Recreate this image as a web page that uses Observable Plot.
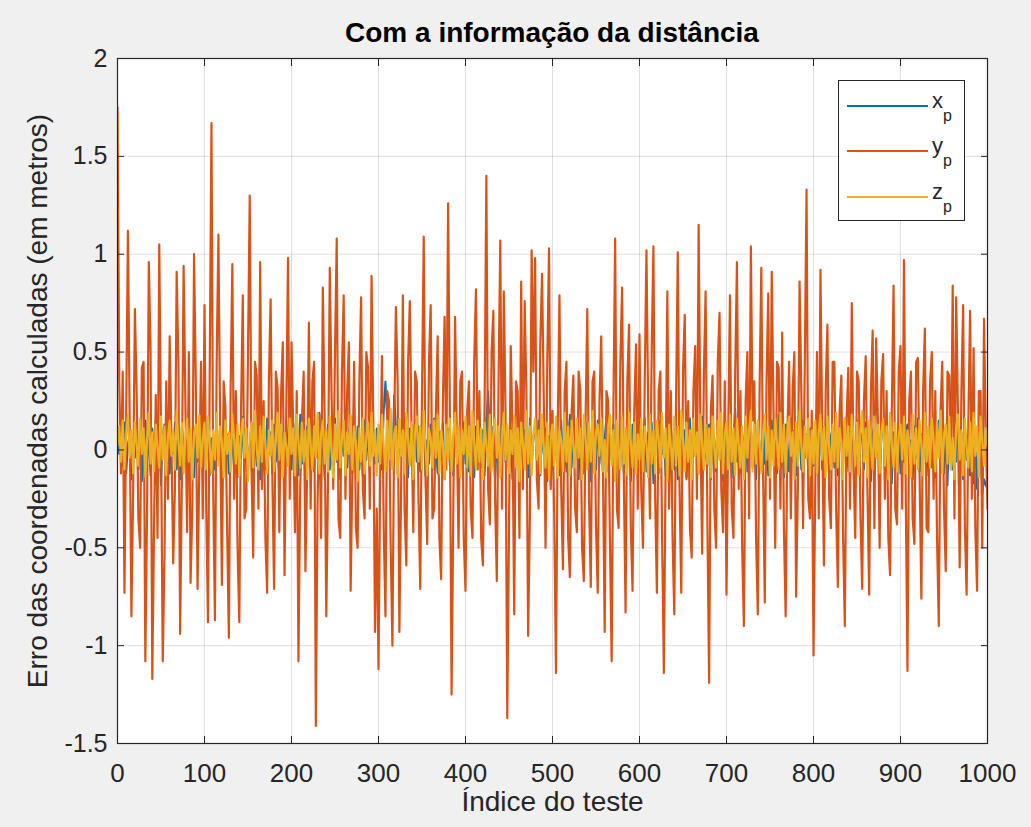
<!DOCTYPE html>
<html>
<head>
<meta charset="utf-8">
<script src="https://cdn.jsdelivr.net/npm/d3@7"></script>
<script src="https://cdn.jsdelivr.net/npm/@observablehq/plot@0.6"></script>
<style>
  html, body { margin: 0; padding: 0; background: #f0f0f0; }
  #wrap { position: relative; width: 1031px; height: 827px; overflow: hidden;
          font-family: "Liberation Sans", Arial, Helvetica, sans-serif; }
  #title { height: 40px; box-sizing: border-box; padding-top: 17px; line-height: 32px; overflow: visible;
           font-size: 28px; font-weight: bold; color: #000; margin-left: 117px; width: 870px; text-align: center; }
  #chart { position: relative; }
  #legend { position: absolute; left: 838px; top: 80px; width: 127px; height: 141px; box-sizing: border-box;
            border: 1px solid #262626; background: #fff; }
  .lg-line { position: absolute; left: 8px; width: 81px; height: 0; }
  .lg-text { position: absolute; left: 93px; font-size: 22px; line-height: 22px; color: #262626; white-space: nowrap; }
  .lg-text span { font-size: 16px; position: relative; top: 13px; }
</style>
</head>
<body>
<div id="wrap">
  <div id="title"></div>
  <div id="chart"></div>
  <div id="legend"></div>
</div>
<script>
// ---- data ----
const titleText = "Com a informação da distância";
const xLabel = "Índice do teste";
const yLabel = "Erro das coordenadas calculadas (em metros)";
const xTicks = [0, 100, 200, 300, 400, 500, 600, 700, 800, 900, 1000];
const yTicks = [-1.5, -1, -0.5, 0, 0.5, 1, 1.5, 2];
const xDomain = [0, 1000];
const yDomain = [-1.5, 2];
const seriesBase = ["x", "y", "z"];
const seriesSub = ["p", "p", "p"];
const seriesColors = ["#0072BD", "#D95319", "#EDB120"];

// x_p (blue) — one value every 2 test indices
const xp = [
  0.05,-0.02,0.1,-0.08,0.14,-0.12,0.03,0.08,-0.15,0.06, -0.04,0.12,-0.1,0.02,-0.16,0.09,0.15,-0.05,0.07,-0.13, 0.11,-0.03,0.16,-0.09,0.04,-0.18,0.08,0.13,-0.06,0.1, -0.12,0.06,-0.02,0.14,-0.1,0.09,-0.15,0.12,0.01,-0.08, 0.15,-0.11,0.07,0.04,-0.14,0.1,-0.06,0.13,-0.09,0.05,
  0.12,-0.07,0.16,-0.13,0.06,0.02,-0.1,0.14,-0.05,0.09, -0.16,0.11,-0.03,0.08,-0.12,0.15,0.04,-0.09,0.13,-0.14, 0.07,-0.04,0.17,-0.11,0.1,-0.06,0.02,0.14,-0.13,0.08, -0.08,0.12,-0.15,0.05,0.11,-0.1,0.16,-0.02,0.09,-0.12, 0.13,-0.06,0.04,-0.14,0.1,0.07,-0.11,0.15,-0.04,0.08,
  -0.1,0.14,-0.05,0.09,-0.13,0.18,-0.07,0.06,-0.16,0.12, 0.02,-0.09,0.15,-0.11,0.08,-0.04,0.19,-0.08,0.11,-0.14, 0.05,0.13,-0.1,0.03,-0.12,0.16,-0.06,0.1,-0.15,0.09, -0.03,0.14,-0.09,0.07,0.17,-0.12,0.04,-0.08,0.12,-0.1, 0.06,-0.14,0.15,-0.05,0.1,-0.11,0.13,0.02,-0.07,0.11,
  -0.06,0.12,-0.1,0.2,0.35,0.15,-0.04,0.1,-0.08,0.28, 0.12,-0.12,0.09,-0.03,0.14,-0.1,0.06,-0.14,0.11,0.04, -0.09,0.15,-0.06,0.12,-0.11,0.08,0.17,-0.13,0.05,-0.07, 0.13,-0.1,0.16,0.02,-0.12,0.09,-0.05,0.14,-0.15,0.07, 0.11,-0.08,0.03,-0.13,0.15,-0.04,0.1,-0.11,0.06,0.14,
  -0.07,0.16,-0.11,0.08,0.03,-0.14,0.12,-0.05,0.19,-0.09, 0.1,-0.13,0.15,0.3,0.06,-0.08,0.12,-0.16,0.05,0.09, -0.1,0.22,0.14,-0.06,0.04,-0.12,0.11,-0.15,0.17,-0.03, 0.08,-0.11,0.13,-0.07,0.1,0.02,-0.14,0.16,-0.09,0.06, 0.12,-0.05,0.15,-0.13,0.09,-0.02,0.11,-0.16,0.07,-0.18,
  0.08,-0.06,0.12,0.02,-0.13,0.15,-0.08,0.1,-0.11,0.05, 0.18,-0.09,0.13,-0.04,0.07,-0.15,0.11,0.03,-0.12,0.14, -0.06,0.09,-0.16,0.12,0.04,-0.1,0.15,-0.07,0.1,-0.13, 0.06,0.17,-0.11,0.08,-0.05,0.13,-0.14,0.1,0.01,-0.09, 0.15,-0.12,0.07,-0.03,0.11,-0.16,0.13,0.05,-0.1,0.09,
  0.12,-0.08,0.04,0.16,-0.11,0.09,-0.05,0.14,-0.17,0.07, 0.1,-0.12,0.15,-0.02,0.06,-0.13,0.19,-0.07,0.11,0.03, -0.1,0.13,-0.15,0.08,0.12,-0.06,0.1,-0.14,0.05,0.16, -0.09,0.11,-0.03,0.14,-0.12,0.07,0.17,-0.1,0.04,-0.08, 0.13,-0.15,0.09,0.06,-0.11,0.14,-0.04,0.1,-0.16,0.08,
  0.07,-0.1,0.13,-0.14,0.05,0.21,-0.06,0.11,-0.12,0.09, -0.03,0.15,-0.11,0.08,0.12,-0.09,0.04,-0.15,0.14,0.02, -0.1,0.17,-0.07,0.1,-0.13,0.06,0.15,-0.05,0.11,-0.12, 0.18,-0.08,0.09,-0.14,0.13,0.03,-0.11,0.16,-0.06,0.1, -0.13,0.07,0.12,-0.1,0.15,-0.04,0.08,-0.12,0.11,0.05,
  -0.08,0.14,-0.12,0.06,0.17,-0.1,0.09,-0.05,0.13,-0.15, 0.07,0.11,-0.09,0.15,-0.13,0.04,0.1,-0.07,0.16,-0.11, 0.06,-0.14,0.12,0.02,-0.08,0.15,-0.12,0.09,0.05,-0.1, 0.14,-0.06,0.11,-0.16,0.08,0.13,-0.04,0.1,-0.12,0.07, 0.15,-0.09,0.04,-0.13,0.12,-0.17,0.09,0.06,-0.08,0.1,
  -0.12,0.15,-0.06,0.09,0.13,-0.1,0.05,-0.15,0.12,-0.04, 0.16,-0.11,0.08,-0.07,0.14,-0.13,0.1,0.03,-0.09,0.12, -0.14,0.06,0.15,-0.08,0.1,-0.12,0.07,-0.18,0.11,0.04, -0.1,0.13,-0.06,0.16,-0.11,0.09,-0.15,0.12,-0.05,0.08, -0.13,0.1,-0.17,0.06,-0.2,-0.08,0.05,-0.22,-0.15,-0.18,
  -0.2
];

// y_p (orange)
const yp = [
  1.75,0.35,-0.12,0.4,-0.73,0.2,1.12,0.15,-0.85,-0.2, 0.72,0.3,-0.35,-0.5,0.42,0.45,-1.08,-0.3,0.96,0.5, -1.17,-0.4,0.28,-0.45,1.05,0.1,-1.08,-0.55,0.35,-0.25, 0.58,0.05,-0.58,-0.2,0.91,0.45,-0.94,-0.15,0.94,0.25, -0.42,0.5,-0.68,-0.3,1.0,0.35,-0.71,-0.1,0.45,-0.35,
  0.74,-0.3,-0.88,0.4,1.67,-0.2,-0.87,0.45,1.1,0.1, -0.69,0.35,0.22,-0.4,-0.96,0.3,0.95,-0.25,0.3,-0.5, -0.88,0.2,0.79,-0.35,-0.3,0.5,1.3,-0.1,-0.55,0.45, 0.38,-0.3,0.96,-0.2,0.25,-0.45,-0.73,0.35,0.77,-0.15, -0.71,0.4,0.32,-0.42,0.28,0.55,-0.64,0.2,0.98,-0.25,
  0.55,0.1,-0.42,0.3,-1.08,-0.2,0.15,0.4,-0.62,-0.1, 0.65,-0.3,0.35,0.45,-1.41,-0.25,0.18,-0.45,0.83,0.2, -0.85,-0.15,0.93,0.3,-0.2,0.5,1.08,-0.35,-0.45,0.4, 0.79,-0.25,0.3,0.55,-0.72,-0.1,0.45,-0.4,-0.5,0.35, 0.78,-0.2,-0.35,0.5,0.42,-0.3,0.89,0.15,-0.93,-0.3,
  -1.12,-0.1,0.48,-0.4,-0.85,0.3,0.25,-0.5,-1.0,0.1, 0.73,0.35,-0.93,-0.2,0.79,-0.3,-0.59,0.45,0.76,0.1, -0.42,0.4,0.35,-0.25,-0.71,0.3,1.09,-0.15,-0.48,0.45, 0.74,-0.35,-0.3,0.2,0.58,-0.45,-0.66,0.25,0.68,-0.1, 1.26,0.2,-1.25,-0.3,0.68,0.1,-0.5,0.35,0.4,-0.45,
  -0.72,0.2,0.35,-0.3,-0.45,0.45,0.82,-0.1,0.3,-0.45, -0.59,0.25,1.40,-0.2,-0.38,0.5,0.71,-0.25,-0.67,0.35, 1.07,-0.3,0.81,0.2,-1.37,-0.4,0.53,0.1,-0.84,0.35, 0.3,-0.45,0.86,-0.2,0.76,0.3,-0.95,-0.35,1.02,0.4, 0.98,-0.15,-0.3,0.55,0.9,0.25,-0.5,0.45,1.03,-0.2,
  0.2,-0.35,-1.14,0.1,0.79,-0.2,-0.61,0.3,0.45,-0.45, -0.65,0.2,0.38,-0.3,-0.42,0.4,0.3,-0.5,-0.67,0.15, 0.72,-0.25,-0.70,0.35,0.4,-0.4,-0.73,0.25,0.58,-0.1, -0.93,0.3,0.25,-0.45,-1.08,0.2,1.08,-0.3,-0.4,0.45, 0.83,-0.15,-0.83,0.35,0.64,-0.4,-0.72,0.2,0.54,-0.3,
  0.59,-0.2,-0.5,0.35,1.02,0.2,-0.35,0.5,1.04,-0.25, -0.73,0.3,0.4,-0.45,-1.14,-0.1,0.81,-0.3,0.3,-0.45, -0.84,0.25,1.01,-0.2,-0.73,0.4,0.69,-0.15,0.25,-0.4, -0.55,0.3,0.53,-0.25,1.15,0.1,-0.53,0.4,0.81,-0.35, -1.19,0.2,0.38,-0.3,-0.5,0.45,0.7,-0.2,-0.42,0.35,
  -0.74,0.1,0.79,-0.3,-0.45,0.4,0.96,-0.2,0.3,-0.5, -0.9,0.25,0.5,-0.35,1.04,0.15,0.35,-0.45,-0.84,0.3, 0.93,-0.1,-0.78,0.35,0.80,-0.25,0.91,0.2,-0.5,0.45, 0.42,-0.3,0.60,-0.4,-0.85,0.1,0.45,-0.35,0.3,0.5, -0.75,-0.2,0.86,0.3,-0.4,0.45,1.33,-0.25,-0.35,0.2,
  -1.05,-0.2,0.5,-0.35,0.92,0.1,-0.59,0.3,0.64,-0.25, -0.4,0.45,0.45,-0.3,-0.70,0.2,0.38,-0.45,-0.90,0.15, 0.42,-0.3,0.75,-0.1,-0.45,0.4,0.35,-0.35,-0.71,0.25, 0.48,-0.2,-0.74,0.3,0.61,-0.4,0.57,0.15,-0.5,0.35, 0.49,-0.25,0.3,-0.45,-0.64,0.2,0.84,-0.3,-0.38,0.4,
  0.53,-0.3,0.97,-0.2,-1.13,0.25,0.4,-0.35,-0.48,0.45, 0.47,-0.15,-0.76,0.3,0.62,-0.4,-0.42,0.35,0.5,-0.25, 0.3,-0.45,-0.90,0.2,0.45,-0.3,-0.62,0.4,0.38,-0.1, 0.84,-0.35,0.78,0.2,-0.60,0.3,0.74,-0.4,-0.74,0.15, 0.71,-0.25,0.52,-0.4,-0.72,0.3,0.3,-0.5,0.67,0.1,
  -0.3
];

// z_p (yellow)
const zp = [
  0.02,0.12,-0.06,0.15,-0.1,0.08,0.18,-0.04,0.1,-0.12, 0.14,0.03,-0.08,0.16,-0.02,0.11,-0.14,0.06,0.19,-0.07, 0.09,-0.11,0.13,0.01,-0.09,0.17,-0.05,0.12,-0.13,0.07, 0.15,-0.03,0.1,-0.1,0.2,0.04,-0.08,0.14,-0.12,0.06, 0.16,-0.06,0.11,-0.15,0.08,0.13,-0.04,0.18,-0.09,0.05,
  0.14,-0.1,0.17,0.02,-0.12,0.1,-0.05,0.19,-0.08,0.12, 0.04,-0.14,0.15,-0.02,0.09,-0.11,0.18,0.06,-0.07,0.13, -0.13,0.08,0.16,-0.04,0.11,-0.16,0.05,0.14,-0.09,0.2, 0.01,-0.1,0.12,-0.06,0.17,0.03,-0.12,0.1,-0.03,0.15, -0.11,0.07,0.19,-0.05,0.13,-0.14,0.09,0.02,-0.08,0.16,
  -0.02,0.11,-0.13,0.18,0.05,-0.09,0.14,-0.06,0.1,-0.15, 0.16,0.03,-0.1,0.12,-0.04,0.19,-0.12,0.08,0.15,-0.07, 0.1,-0.11,0.17,0.0,-0.14,0.13,-0.05,0.2,-0.09,0.06, 0.15,-0.13,0.09,-0.02,0.18,-0.1,0.12,0.04,-0.16,0.11, -0.06,0.16,-0.12,0.07,0.14,-0.08,0.19,-0.03,0.1,-0.13,
  0.13,-0.07,0.18,0.02,-0.11,0.15,-0.05,0.21,-0.1,0.08, 0.12,-0.14,0.16,-0.03,0.1,-0.12,0.19,0.05,-0.08,0.14, -0.15,0.09,0.17,-0.06,0.12,-0.1,0.2,0.01,-0.13,0.11, 0.06,-0.09,0.15,-0.04,0.18,-0.12,0.1,0.03,-0.15,0.13, -0.05,0.16,-0.11,0.08,0.19,-0.07,0.12,-0.14,0.1,-0.02,
  0.17,-0.09,0.12,-0.13,0.2,0.04,-0.1,0.15,-0.06,0.11, -0.15,0.14,0.02,-0.08,0.18,-0.11,0.09,0.16,-0.04,0.12, -0.14,0.07,0.19,-0.05,0.13,-0.12,0.1,-0.02,0.17,-0.09, 0.11,-0.16,0.14,0.03,-0.1,0.2,-0.07,0.12,-0.13,0.08, 0.16,-0.05,0.1,-0.12,0.18,0.01,-0.09,0.14,-0.15,0.06,
  0.13,-0.08,0.17,-0.14,0.1,0.05,-0.11,0.19,-0.06,0.12, -0.13,0.15,0.02,-0.09,0.16,-0.04,0.11,-0.15,0.18,0.07, -0.1,0.14,-0.06,0.2,-0.12,0.09,0.13,-0.03,0.16,-0.11, 0.05,-0.14,0.12,0.18,-0.08,0.1,-0.16,0.15,0.01,-0.1, 0.17,-0.07,0.11,-0.13,0.19,0.04,-0.09,0.14,-0.12,0.08,
  -0.05,0.16,-0.11,0.12,0.03,-0.14,0.18,-0.07,0.1,-0.12, 0.15,0.06,-0.09,0.19,-0.04,0.11,-0.16,0.13,0.02,-0.1, 0.17,-0.08,0.12,-0.13,0.2,0.05,-0.11,0.14,-0.06,0.1, -0.15,0.16,-0.03,0.09,-0.12,0.18,0.04,-0.1,0.13,-0.07, 0.11,-0.14,0.17,0.01,-0.09,0.15,-0.05,0.19,-0.12,0.08,
  0.14,-0.1,0.18,-0.06,0.11,-0.13,0.16,0.03,-0.09,0.12, -0.15,0.17,-0.04,0.1,0.2,-0.11,0.13,-0.07,0.15,0.02, -0.12,0.09,0.18,-0.05,0.12,-0.14,0.1,-0.08,0.16,0.04, -0.1,0.19,-0.06,0.13,-0.12,0.11,0.17,-0.03,0.09,-0.15, 0.14,-0.08,0.2,0.02,-0.11,0.12,-0.04,0.16,-0.13,0.1,
  -0.07,0.15,-0.12,0.09,0.18,-0.05,0.12,-0.14,0.17,0.01, -0.1,0.13,-0.06,0.19,-0.09,0.11,0.04,-0.15,0.16,-0.03, 0.12,-0.11,0.18,0.06,-0.08,0.14,-0.13,0.1,0.2,-0.06, 0.11,-0.14,0.15,0.02,-0.1,0.17,-0.04,0.13,-0.12,0.09, 0.16,-0.08,0.12,-0.15,0.19,0.03,-0.09,0.14,-0.11,0.07,
  0.13,-0.05,0.17,-0.12,0.1,0.04,-0.14,0.18,-0.07,0.11, -0.1,0.15,0.02,-0.13,0.19,-0.06,0.12,-0.09,0.16,0.05, -0.11,0.14,-0.04,0.2,-0.12,0.08,0.13,-0.07,0.17,-0.1, 0.06,-0.15,0.12,0.18,-0.05,0.1,-0.13,0.16,0.01,-0.09, 0.14,-0.11,0.19,-0.03,0.12,-0.14,0.17,0.05,-0.08,0.11,
  0.02
];

// ---- build ----
document.getElementById("title").textContent = titleText;
const toRows = (arr) => arr.map((v, k) => ({idx: xDomain[0] + k * (xDomain[1] - xDomain[0]) / (arr.length - 1), v}));
const series = [xp, yp, zp];
const lineWidths = [2, 2.2, 2.2];
const fontFamily = "'Liberation Sans', Arial, Helvetica, sans-serif";
const fmt = (d) => String(d);

const chart = Plot.plot({
  width: 1031,
  height: 787,
  marginTop: 18,
  marginBottom: 84,
  marginLeft: 117,
  marginRight: 44,
  style: {background: "transparent", fontFamily, color: "#262626", overflow: "visible"},
  x: {domain: xDomain},
  y: {domain: yDomain},
  marks: [
    Plot.frame({fill: "white", stroke: null}),
    Plot.gridX(xTicks, {stroke: "#262626", strokeOpacity: 0.15}),
    Plot.gridY(yTicks, {stroke: "#262626", strokeOpacity: 0.15}),
    ...series.map((s, k) => Plot.lineY(toRows(s), {x: "idx", y: "v", stroke: seriesColors[k], strokeWidth: lineWidths[k], clip: true})),
    Plot.frame({stroke: "#262626", strokeWidth: 1.2}),
    Plot.axisX(xTicks, {anchor: "bottom", tickSize: -7, tickPadding: 27, fontSize: 26, tickFormat: fmt, label: null}),
    Plot.axisX(xTicks, {anchor: "top", tickSize: -7, tickFormat: () => "", label: null}),
    Plot.axisY(yTicks, {anchor: "left", tickSize: -7, tickPadding: 17, fontSize: 25, tickFormat: fmt, label: null}),
    Plot.axisY(yTicks, {anchor: "right", tickSize: -7, tickFormat: () => "", label: null}),
    Plot.text([xLabel], {frameAnchor: "bottom", dy: 59, lineAnchor: "middle", fontSize: 28, fill: "#262626"}),
    Plot.text([yLabel], {frameAnchor: "left", dx: -79, rotate: -90, textAnchor: "middle", lineAnchor: "middle", fontSize: 28, fill: "#262626"})
  ]
});
document.getElementById("chart").appendChild(chart);

// legend (HTML overlay inside the axes)
const legend = document.getElementById("legend");
const rowCenters = [25, 70, 116];
seriesBase.forEach((b, k) => {
  const line = document.createElement("div");
  line.className = "lg-line";
  line.style.top = (rowCenters[k] - 1) + "px";
  line.style.borderTop = "2px solid " + seriesColors[k];
  legend.appendChild(line);
  const t = document.createElement("div");
  t.className = "lg-text";
  t.style.top = (rowCenters[k] - 16) + "px";
  t.innerHTML = b + "<span>" + seriesSub[k] + "</span>";
  legend.appendChild(t);
});
</script>
</body>
</html>
